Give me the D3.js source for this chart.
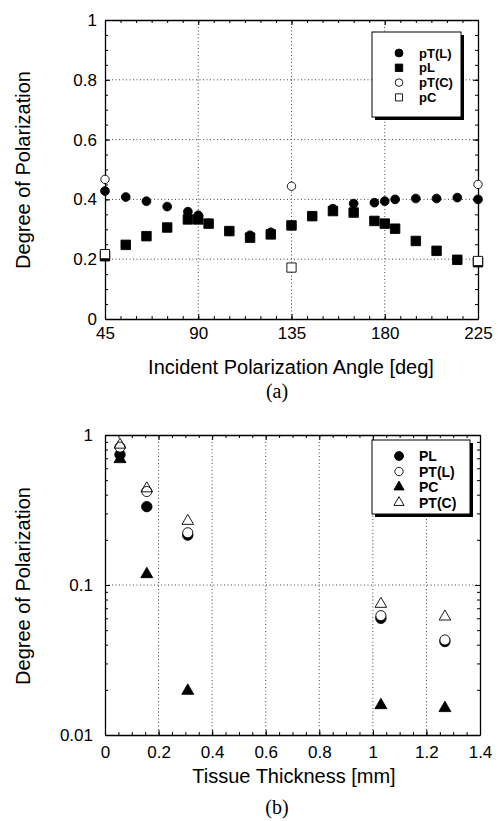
<!DOCTYPE html>
<html>
<head>
<meta charset="utf-8">
<script src="https://cdn.jsdelivr.net/npm/d3@7"></script>
<style>
  body { margin: 0; background: #fff; }
  svg { display: block; font-family: "Liberation Sans", Arial, sans-serif; }
  .grid line { stroke: #444; stroke-width: 1; stroke-dasharray: 1,2.5; }
  .axis path, .axis line { stroke: #000; }
  .axis text { fill: #000; }
</style>
</head>
<body>
<svg width="499" height="821"></svg>
<script>
// (a) degree of polarization vs incident polarization angle
var anglesL = [45, 55, 65, 75, 85, 90, 95, 105, 115, 125, 135, 145, 155, 165, 175, 180, 185, 195, 205, 215, 225];
var pTL = [0.428, 0.408, 0.394, 0.376, 0.359, 0.347, 0.32, 0.294, 0.28, 0.29, 0.313, 0.344, 0.369, 0.386, 0.389, 0.394, 0.40, 0.403, 0.403, 0.406, 0.40];
var pL = [0.21, 0.248, 0.277, 0.306, 0.333, 0.333, 0.319, 0.294, 0.272, 0.283, 0.313, 0.344, 0.361, 0.356, 0.328, 0.319, 0.302, 0.261, 0.228, 0.198, 0.19];
var anglesC = [45, 135, 225];
var pTC = [0.467, 0.444, 0.45];
var pC = [0.217, 0.172, 0.194];
var angleTicks = [45, 90, 135, 180, 225];
var linTicks = [0, 0.2, 0.4, 0.6, 0.8, 1];

// (b) degree of polarization vs tissue thickness
var thickness = [0.056, 0.156, 0.309, 1.03, 1.269];
var PL = [0.74, 0.333, 0.215, 0.06, 0.042];
var PTL = [0.83, 0.42, 0.223, 0.0625, 0.043];
var PC = [0.69, 0.118, 0.0197, 0.0158, 0.0151];
var PTC = [0.86, 0.44, 0.267, 0.0747, 0.0615];
var thickTicks = [0, 0.2, 0.4, 0.6, 0.8, 1, 1.2, 1.4];
var logTicks = [0.01, 0.1, 1];

var svg = d3.select('svg');

// box with inward ticks on all four sides, labels only left/bottom
function frame(g, x, y, o) {
    var w = x.range()[1], h = y.range()[0];

    var grid = g.append('g').attr('class', 'grid');
    grid.selectAll('.gx').data(o.gridX).enter().append('line')
        .attr('x1', d => x(d)).attr('x2', d => x(d)).attr('y1', 0).attr('y2', h);
    grid.selectAll('.gy').data(o.gridY).enter().append('line')
        .attr('y1', d => y(d)).attr('y2', d => y(d)).attr('x1', 0).attr('x2', w);

    var sides = [
        [d3.axisBottom, x, [0, h], true, o.xMajor, o.xMinor, o.xPad],
        [d3.axisTop, x, [0, 0], false, o.xMajor, o.xMinor, 0],
        [d3.axisLeft, y, [0, 0], true, o.yMajor, o.yMinor, o.yPad],
        [d3.axisRight, y, [w, 0], false, o.yMajor, o.yMinor, 0]
    ];
    sides.forEach(function(s) {
        var ax = g.append('g').attr('class', 'axis')
            .attr('transform', 'translate(' + s[2][0] + ',' + s[2][1] + ')');
        ax.call(s[0](s[1]).tickValues(s[5]).tickSize(-3).tickSizeOuter(0).tickFormat(''));
        ax.select('.domain').remove();
        var mj = g.append('g').attr('class', 'axis')
            .attr('transform', 'translate(' + s[2][0] + ',' + s[2][1] + ')')
            .call(s[0](s[1]).tickValues(s[4]).tickSize(-5).tickSizeOuter(0)
                .tickPadding(s[6]).tickFormat(s[3] ? d => String(d) : ''));
        mj.select('.domain').attr('stroke-width', 1.3);
        mj.selectAll('text').attr('font-size', 17).attr('font-family', '"Liberation Sans", Arial, sans-serif');
    });
}

function legend(g, x0, y0, w, h, rows, dy, fontSize, weight) {
    g.append('rect').attr('x', x0 + 3).attr('y', y0 + 3).attr('width', w).attr('height', h).attr('fill', '#000');
    g.append('rect').attr('x', x0).attr('y', y0).attr('width', w).attr('height', h)
        .attr('fill', '#fff').attr('stroke', '#000').attr('stroke-width', 1);
    rows.forEach(function(r, i) {
        var yy = y0 + r.first + i * dy;
        g.append('path').attr('d', r.sym.size(r.size)())
            .attr('transform', 'translate(' + (x0 + 27) + ',' + yy + ')')
            .attr('fill', r.fill).attr('stroke', '#000').attr('stroke-width', 0.9);
        g.append('text').attr('x', x0 + 47).attr('y', yy).attr('dy', '0.36em')
            .attr('font-size', fontSize).attr('font-weight', weight).text(r.name);
    });
}

// ---------- chart (a)
var ga = svg.append('g').attr('transform', 'translate(105,20)');
var xa = d3.scaleLinear().domain([45, 225]).range([0, 373]);
var ya = d3.scaleLinear().domain([0, 1]).range([299, 0]);

frame(ga, xa, ya, {
    gridX: [90, 135, 180], gridY: [0.2, 0.4, 0.6, 0.8],
    xMajor: angleTicks, xMinor: d3.range(45, 225.1, 7.5),
    yMajor: linTicks, yMinor: d3.range(0, 1.001, 0.05),
    xPad: 8, yPad: 8
});

function points(g, xs, ys, x, y, sym, size, fill) {
    g.append('g').selectAll('path').data(d3.zip(xs, ys)).enter().append('path')
        .attr('d', d3.symbol().type(sym).size(size)())
        .attr('transform', d => 'translate(' + x(d[0]) + ',' + y(d[1]) + ')')
        .attr('fill', fill).attr('stroke', '#000').attr('stroke-width', 0.9);
}

points(ga, anglesL, pTL, xa, ya, d3.symbolCircle, 60, '#000');
points(ga, anglesL, pL, xa, ya, d3.symbolSquare, 90, '#000');
points(ga, anglesC, pTC, xa, ya, d3.symbolCircle, 55, '#fff');
points(ga, anglesC, pC, xa, ya, d3.symbolSquare, 85, '#fff');

legend(svg, 372, 32, 89, 85, [
    { name: 'pT(L)', sym: d3.symbol().type(d3.symbolCircle), size: 50, fill: '#000', first: 21 },
    { name: 'pL', sym: d3.symbol().type(d3.symbolSquare), size: 55, fill: '#000', first: 21 },
    { name: 'pT(C)', sym: d3.symbol().type(d3.symbolCircle), size: 45, fill: '#fff', first: 21 },
    { name: 'pC', sym: d3.symbol().type(d3.symbolSquare), size: 50, fill: '#fff', first: 21 }
], 14.8, 13, 'bold');

svg.append('text').attr('x', 291).attr('y', 374).attr('text-anchor', 'middle')
    .attr('font-size', 20).text('Incident Polarization Angle [deg]');
svg.append('text').attr('transform', 'translate(30,170) rotate(-90)').attr('text-anchor', 'middle')
    .attr('font-size', 20).text('Degree of Polarization');
svg.append('text').attr('x', 277).attr('y', 398).attr('text-anchor', 'middle')
    .attr('font-family', '"Liberation Serif", "Times New Roman", serif').attr('font-size', 20).text('(a)');

// ---------- chart (b)
var gb = svg.append('g').attr('transform', 'translate(105,435)');
var xb = d3.scaleLinear().domain([0, 1.4]).range([0, 375]);
var yb = d3.scaleLog().domain([0.01, 1]).range([300, 0]);

var logMinor = [];
[0.01, 0.1].forEach(function(dec) {
    d3.range(1, 10).forEach(function(k) { logMinor.push(dec * k); });
});
logMinor.push(1);

frame(gb, xb, yb, {
    gridX: [0.2, 0.4, 0.6, 0.8, 1, 1.2], gridY: [0.1],
    xMajor: thickTicks, xMinor: d3.range(0, 1.401, 0.05),
    yMajor: logTicks, yMinor: logMinor,
    xPad: 11, yPad: 12
});

points(gb, thickness, PL, xb, yb, d3.symbolCircle, 85, '#000');
points(gb, thickness, PTL, xb, yb, d3.symbolCircle, 80, '#fff');
points(gb, thickness, PC, xb, yb, d3.symbolTriangle, 62, '#000');
points(gb, thickness, PTC, xb, yb, d3.symbolTriangle, 58, 'none');

legend(svg, 372, 440, 98, 74, [
    { name: 'PL', sym: d3.symbol().type(d3.symbolCircle), size: 62, fill: '#000', first: 16 },
    { name: 'PT(L)', sym: d3.symbol().type(d3.symbolCircle), size: 55, fill: '#fff', first: 16 },
    { name: 'PC', sym: d3.symbol().type(d3.symbolTriangle), size: 45, fill: '#000', first: 16 },
    { name: 'PT(C)', sym: d3.symbol().type(d3.symbolTriangle), size: 45, fill: 'none', first: 16 }
], 15.5, 14, 'bold');

svg.append('text').attr('x', 294).attr('y', 783).attr('text-anchor', 'middle')
    .attr('font-size', 20).text('Tissue Thickness [mm]');
svg.append('text').attr('transform', 'translate(30,586) rotate(-90)').attr('text-anchor', 'middle')
    .attr('font-size', 20).text('Degree of Polarization');
svg.append('text').attr('x', 277).attr('y', 814).attr('text-anchor', 'middle')
    .attr('font-family', '"Liberation Serif", "Times New Roman", serif').attr('font-size', 20).text('(b)');
</script>
</body>
</html>
